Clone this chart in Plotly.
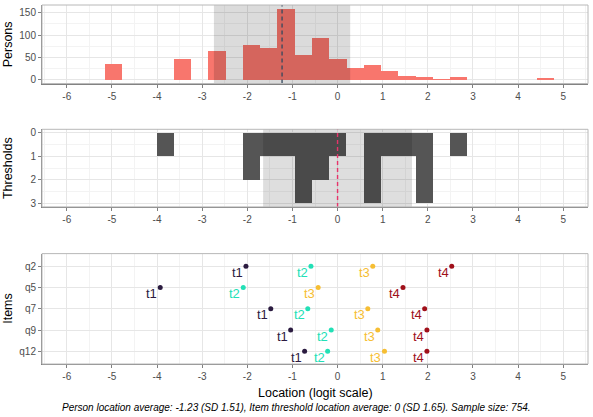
import plotly.graph_objects as go

FONT = "Liberation Sans, Arial, sans-serif"

# ---------------- data ----------------
person_bin_mid = [-4.97, -3.44, -2.67, -1.91, -1.52, -1.14, -0.76, -0.38, 0.01,
                  0.39, 0.77, 1.15, 1.54, 1.92, 2.30, 2.68, 4.60]
person_count = [36, 47, 64, 78, 72, 159, 55, 94, 47, 26, 34, 21, 9, 7, 1, 6, 3]
bin_width = 0.3825
bin_start = -5.1575

items = ["q2", "q5", "q7", "q9", "q12"]
t1 = [-2.03, -3.93, -1.48, -1.04, -0.73]
t2 = [-0.59, -2.09, -0.66, -0.14, -0.22]
t3 = [0.78, -0.43, 0.67, 0.89, 1.04]
t4 = [2.53, 1.45, 1.93, 1.98, 1.98]
threshold_names = ["t1", "t2", "t3", "t4"]
threshold_colors = ["#2B1B40", "#22E0B6", "#F6BE33", "#A0101A"]

person_mean, person_sd = -1.23, 1.51
thr_mean, thr_sd = 0, 1.65
sample_size = 754
x_ticks = list(range(-6, 6))

# ---------------- figure ----------------
fig = go.Figure()

fig.add_trace(go.Bar(x=person_bin_mid, y=person_count, width=bin_width,
                     marker=dict(color="#F8766D", line=dict(width=0)),
                     xaxis="x", yaxis="y", showlegend=False))

all_thr = t1 + t2 + t3 + t4
fig.add_trace(go.Histogram(x=all_thr, xbins=dict(start=bin_start, end=6, size=bin_width),
                           marker=dict(color="#555555", line=dict(width=0)),
                           xaxis="x2", yaxis="y2", showlegend=False))

thr_sets = [t1, t2, t3, t4]
annotations = []
for name, col, vals in zip(threshold_names, threshold_colors, thr_sets):
    fig.add_trace(go.Scatter(x=vals, y=items, mode="markers",
                             marker=dict(color=col, size=5),
                             xaxis="x3", yaxis="y3", showlegend=False))
    for v, it in zip(vals, items):
        annotations.append(dict(x=v, y=it, xref="x3", yref="y3", text=name,
                                showarrow=False, xanchor="right", yanchor="middle",
                                xshift=-1, yshift=-6,
                                font=dict(family=FONT, size=13, color=col)))

grid_major = "#E6E6E6"
grid_minor = "#F3F3F3"
axis_line = "#808080"
tickfont = dict(family=FONT, size=10, color="#4D4D4D")

def xax(anchor):
    return dict(anchor=anchor, range=[-6.55, 5.55], tickvals=x_ticks,
                ticktext=[str(v) for v in x_ticks],
                ticks="outside", ticklen=3, tickcolor=axis_line,
                showline=True, linecolor=axis_line, linewidth=1,
                showgrid=True, gridcolor=grid_major, gridwidth=1,
                minor=dict(showgrid=True, gridcolor=grid_minor, dtick=0.5,
                           tick0=-6.5),
                zeroline=False, tickfont=tickfont)

def yax(domain, anchor, **kw):
    d = dict(domain=domain, anchor=anchor, ticks="outside", ticklen=3,
             tickcolor=axis_line, showline=True, linecolor=axis_line, linewidth=1,
             showgrid=True, gridcolor=grid_major, zeroline=False, tickfont=tickfont)
    d.update(kw)
    return d

H, T, B = 417, 3, 53
ph = H - T - B
def dom(top_px, bot_px):
    return [(H - B - bot_px) / ph, (H - B - top_px) / ph]

fig.update_layout(
    width=593, height=417,
    margin=dict(l=42, r=5, t=T, b=B),
    paper_bgcolor="white", plot_bgcolor="white",
    font=dict(family=FONT),
    bargap=0,
    xaxis=xax("y"),
    xaxis2=xax("y2"),
    xaxis3=xax("y3"),
    yaxis=yax(dom(3, 82), "x", range=[-8, 167], tickvals=[0, 50, 100, 150],
              minor=dict(showgrid=True, gridcolor=grid_minor, tickvals=[25, 75, 125])),
    yaxis2=yax(dom(128, 206), "x2", range=[3.15, -0.15], tickvals=[0, 1, 2, 3],
               minor=dict(showgrid=True, gridcolor=grid_minor, tickvals=[0.5, 1.5, 2.5])),
    yaxis3=yax(dom(253, 364), "x3", type="category", categoryorder="array",
               categoryarray=items, range=[4.6, -0.6]),
)

shapes = []
# SD bands
shapes.append(dict(type="rect", xref="x", yref="y domain",
                   x0=person_mean - person_sd, x1=person_mean + person_sd, y0=0, y1=1,
                   fillcolor="rgba(0,0,0,0.14)", line=dict(width=0), layer="above"))
shapes.append(dict(type="rect", xref="x2", yref="y2 domain",
                   x0=thr_mean - thr_sd, x1=thr_mean + thr_sd, y0=0, y1=1,
                   fillcolor="rgba(0,0,0,0.13)", line=dict(width=0), layer="above"))
# mean lines
shapes.append(dict(type="line", xref="x", yref="y domain", x0=person_mean, x1=person_mean,
                   y0=0, y1=1, line=dict(color="#34495E", width=1.3, dash="4px,3px"),
                   layer="above"))
shapes.append(dict(type="line", xref="x2", yref="y2 domain", x0=thr_mean, x1=thr_mean,
                   y0=0, y1=1, line=dict(color="#E8336A", width=1.4, dash="4px,3px"),
                   layer="above"))
# panel borders
for xa, ya in [("x", "y"), ("x2", "y2"), ("x3", "y3")]:
    shapes.append(dict(type="rect", xref=xa + " domain", yref=ya + " domain",
                       x0=0, x1=1, y0=0, y1=1, line=dict(color="#B8B8B8", width=1),
                       fillcolor="rgba(0,0,0,0)", layer="above"))
fig.update_layout(shapes=shapes)

pw = 593 - 42 - 5
def px_x(p):
    return (p - 42) / pw
def px_y(p):
    return (H - B - p) / ph

title_font = dict(family=FONT, size=12.5, color="black")
for label, cy in [("Persons", 42.5), ("Thresholds", 167), ("Items", 308.5)]:
    annotations.append(dict(x=px_x(8), y=px_y(cy), xref="paper", yref="paper",
                            text=label, textangle=-90, showarrow=False,
                            xanchor="center", yanchor="middle", font=title_font))
annotations.append(dict(x=0.5, y=px_y(393), xref="paper", yref="paper",
                        text="Location (logit scale)", showarrow=False,
                        xanchor="center", yanchor="middle", font=title_font))
caption = (f"<i>Person location average: {person_mean} (SD {person_sd}), "
           f"Item threshold location average: {thr_mean} (SD {thr_sd}). "
           f"Sample size: {sample_size}.</i>")
annotations.append(dict(x=px_x(296.5), y=px_y(408), xref="paper", yref="paper",
                        text=caption, showarrow=False, xanchor="center", yanchor="middle",
                        font=dict(family=FONT, size=10, color="black")))
fig.update_layout(annotations=annotations)

fig.write_html("out.html")
